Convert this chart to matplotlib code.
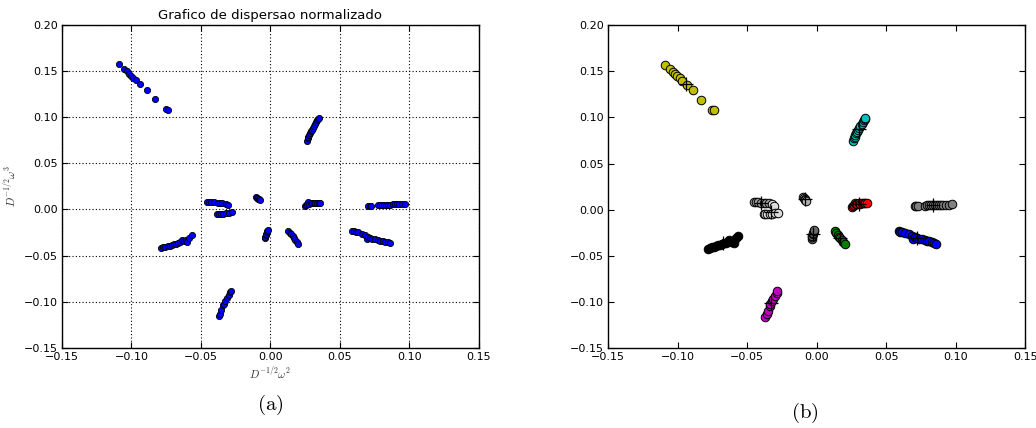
import numpy as np
import matplotlib
matplotlib.use('Agg')
import matplotlib.pyplot as plt

plt.rcParams['mathtext.fontset'] = 'cm'

# clusters: (x values, y values)
yellow_x = [-0.1090, -0.1054, -0.1034, -0.1018, -0.1003, -0.0986, -0.0967, -0.0936, -0.0888, -0.0830, -0.0754, -0.0737]
yellow_y = [0.1573, 0.1523, 0.1497, 0.1472, 0.1450, 0.1429, 0.1400, 0.1356, 0.1295, 0.1194, 0.1085, 0.1078]

cyan_x = [0.0262, 0.0268, 0.0272, 0.0278, 0.0285, 0.0290, 0.0297, 0.0305, 0.0312, 0.0322, 0.0330, 0.0338, 0.0346, 0.0349]
cyan_y = [0.0745, 0.0775, 0.0790, 0.0810, 0.0830, 0.0845, 0.0860, 0.0885, 0.0905, 0.0930, 0.0950, 0.0970, 0.0985, 0.0992]

red_x = [0.0251, 0.0258, 0.0265, 0.0272, 0.0280, 0.0290, 0.0300, 0.0312, 0.0325, 0.0338, 0.0350, 0.0360]
red_y = [0.0035, 0.0045, 0.0055, 0.0075, 0.0062, 0.0068, 0.0070, 0.0066, 0.0072, 0.0070, 0.0073, 0.0071]

gray_x = [0.0705, 0.0715, 0.0725, 0.0775, 0.0790, 0.0805, 0.0820, 0.0835, 0.0850, 0.0865, 0.0880, 0.0895, 0.0910, 0.0930, 0.0950, 0.0970]
gray_y = [0.0040, 0.0042, 0.0040, 0.0045, 0.0047, 0.0048, 0.0050, 0.0050, 0.0052, 0.0053, 0.0054, 0.0055, 0.0055, 0.0056, 0.0057, 0.0058]

blue_x = [0.0588, 0.0600, 0.0615, 0.0634, 0.0660, 0.0682, 0.0694, 0.0705, 0.0718, 0.0735, 0.0754, 0.0775, 0.0790, 0.0810, 0.0826, 0.0845, 0.0860]
blue_y = [-0.0235, -0.0238, -0.0245, -0.0250, -0.0265, -0.0280, -0.0316, -0.0295, -0.0305, -0.0320, -0.0318, -0.0328, -0.0340, -0.0342, -0.0350, -0.0357, -0.0368]

green_x = [0.0130, 0.0140, 0.0150, 0.0160, 0.0170, 0.0180, 0.0190, 0.0200]
green_y = [-0.0235, -0.0255, -0.0272, -0.0290, -0.0310, -0.0330, -0.0350, -0.0370]

dgray_x = [-0.0038, -0.0036, -0.0033, -0.0030, -0.0027, -0.0023, -0.0020]
dgray_y = [-0.0315, -0.0295, -0.0280, -0.0265, -0.0250, -0.0235, -0.0222]

sgray_x = [-0.0100, -0.0094, -0.0088, -0.0082, -0.0077]
sgray_y = [0.0135, 0.0128, 0.0118, 0.0108, 0.0100]

silver_x = [-0.0455, -0.0440, -0.0425, -0.0405, -0.0380, -0.0365, -0.0345]
silver_y = [0.0082, 0.0081, 0.0080, 0.0078, 0.0074, 0.0072, 0.0070]

lgray_x = [-0.0320, -0.0305, -0.0382, -0.0370, -0.0355, -0.0340, -0.0320, -0.0300, -0.0278]
lgray_y = [0.0058, 0.0045, -0.0050, -0.0050, -0.0048, -0.0045, -0.0042, -0.0038, -0.0030]

black_x = [-0.0785, -0.0770, -0.0755, -0.0740, -0.0725, -0.0710, -0.0695, -0.0680, -0.0665, -0.0650, -0.0635, -0.0620, -0.0605, -0.0598, -0.0585, -0.0566]
black_y = [-0.0420, -0.0412, -0.0405, -0.0398, -0.0392, -0.0385, -0.0378, -0.0370, -0.0362, -0.0355, -0.0330, -0.0345, -0.0335, -0.0355, -0.0310, -0.0280]

magenta_x = [-0.0370, -0.0362, -0.0352, -0.0340, -0.0335, -0.0325, -0.0315, -0.0300, -0.0290, -0.0283]
magenta_y = [-0.1157, -0.1130, -0.1095, -0.1040, -0.1025, -0.0990, -0.0965, -0.0930, -0.0900, -0.0885]

clusters = [
    (yellow_x, yellow_y, '#bfbf00'),
    (cyan_x, cyan_y, '#00bfbf'),
    (red_x, red_y, '#ff0000'),
    (gray_x, gray_y, '#808080'),
    (blue_x, blue_y, '#0000ff'),
    (green_x, green_y, '#008000'),
    (dgray_x, dgray_y, '#696969'),
    (sgray_x, sgray_y, '#b0b0b0'),
    (silver_x, silver_y, '#a0a0a0'),
    (lgray_x, lgray_y, '#dcdcdc'),
    (black_x, black_y, '#000000'),
    (magenta_x, magenta_y, '#bf00bf'),
]

ticks_x = [-0.15, -0.10, -0.05, 0.00, 0.05, 0.10, 0.15]
ticks_y = [-0.15, -0.10, -0.05, 0.00, 0.05, 0.10, 0.15, 0.20]

fig = plt.figure(figsize=(10.36, 4.28), dpi=100)
ax1 = fig.add_axes([0.0598, 0.1876, 0.4022, 0.754])
ax2 = fig.add_axes([0.5872, 0.1864, 0.4025, 0.7547])

for ax in (ax1, ax2):
    ax.set_xlim(-0.15, 0.15)
    ax.set_ylim(-0.15, 0.20)
    ax.set_xticks(ticks_x)
    ax.set_yticks(ticks_y)
    ax.set_xticklabels(['\u22120.15', '\u22120.10', '\u22120.05', '0.00', '0.05', '0.10', '0.15'])
    ax.set_yticklabels(['\u22120.15', '\u22120.10', '\u22120.05', '0.00', '0.05', '0.10', '0.15', '0.20'])
    ax.tick_params(direction='in', length=4, width=0.8, labelsize=8,
                   top=True, right=True, pad=3)
    for s in ax.spines.values():
        s.set_linewidth(1.0)

# (a) all points blue
all_x = np.concatenate([c[0] for c in clusters])
all_y = np.concatenate([c[1] for c in clusters])
ax1.scatter(all_x, all_y, s=20, c='#0000ff', edgecolors='k', linewidths=0.6, zorder=3)
ax1.grid(True, color='k', linestyle=(0, (1, 2)), linewidth=0.8)
ax1.set_title('Grafico de dispersao normalizado', fontsize=9.5, pad=4)
ax1.set_xlabel(r'$D^{-1/2}\omega^2$', fontsize=8, color='#333333', labelpad=2)
ax1.set_ylabel(r'$D^{-1/2}\omega^3$', fontsize=8, color='#333333', labelpad=4)

# (b) clusters coloured, with centroids
for cx, cy, col in clusters:
    ax2.scatter(cx, cy, s=38, c=col, edgecolors='k', linewidths=0.7, zorder=3)
for cx, cy, col in clusters:
    ax2.plot(np.mean(cx), np.mean(cy), '+', color='k', markersize=10, mew=0.9, zorder=4)

fig.text(0.2606, 0.054, r'$\mathrm{(a)}$', ha='center', va='center', fontsize=15)
fig.text(0.777, 0.036, r'$\mathrm{(b)}$', ha='center', va='center', fontsize=15)

fig.savefig('out.png', dpi=100)
